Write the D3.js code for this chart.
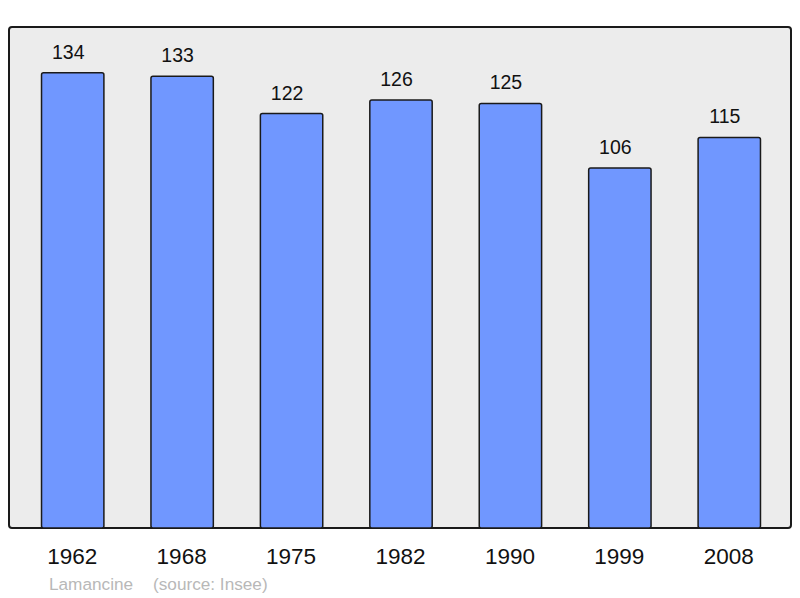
<!DOCTYPE html>
<html><head><meta charset="utf-8">
<script src="https://cdn.jsdelivr.net/npm/d3@7"></script>
<style>body{margin:0;background:#fff}svg{display:block}text{font-family:"Liberation Sans",Arial,sans-serif}</style>
</head><body>
<svg id="c" width="800" height="598"></svg>
<script>
const years = ["1962","1968","1975","1982","1990","1999","2008"];
const population = [134,133,122,126,125,106,115];
const commune = "Lamancine";
const sourceText = "(source: Insee)";

const svg = d3.select("#c");
const frame = {x0: 9, y0: 27, x1: 791, y1: 528};
const x = d3.scaleBand().domain(years).range([18, 784]).paddingInner(0.43).paddingOuter(0.215);
const y = d3.scaleLinear().domain([0, 147.5]).range([frame.y1, frame.y0]);

svg.append("rect").attr("x", frame.x0).attr("y", frame.y0)
  .attr("width", frame.x1 - frame.x0).attr("height", frame.y1 - frame.y0)
  .attr("rx", 3).attr("fill", "#ececec").attr("stroke", "#1a1a1a").attr("stroke-width", 2);

svg.selectAll("rect.bar").data(years).enter().append("rect").attr("class","bar")
  .attr("x", d => x(d)).attr("width", x.bandwidth())
  .attr("y", (d,i) => y(population[i])).attr("height", (d,i) => y(0) - y(population[i]))
  .attr("rx", 2).attr("fill", "#7097ff").attr("stroke", "#1a1a1a").attr("stroke-width", 1.5);

svg.selectAll("text.val").data(years).enter().append("text").attr("class","val")
  .attr("x", d => x(d) + x.bandwidth()/2 - 4.5).attr("y", (d,i) => y(population[i]) - 14)
  .attr("text-anchor","middle").attr("font-size", 19.5).attr("fill","#111")
  .text((d,i) => population[i]);

svg.selectAll("text.yr").data(years).enter().append("text").attr("class","yr")
  .attr("x", d => x(d) + x.bandwidth()/2 - 0.5).attr("y", 564)
  .attr("text-anchor","middle").attr("font-size", 22.5).attr("fill","#111")
  .text(d => d);

svg.append("text").attr("x", 49).attr("y", 590).attr("font-size", 17.2).attr("fill", "#b8b8b8")
  .text(commune);
svg.append("text").attr("x", 153).attr("y", 590).attr("font-size", 17.2).attr("fill", "#b8b8b8")
  .text(sourceText);
</script>
</body></html>
